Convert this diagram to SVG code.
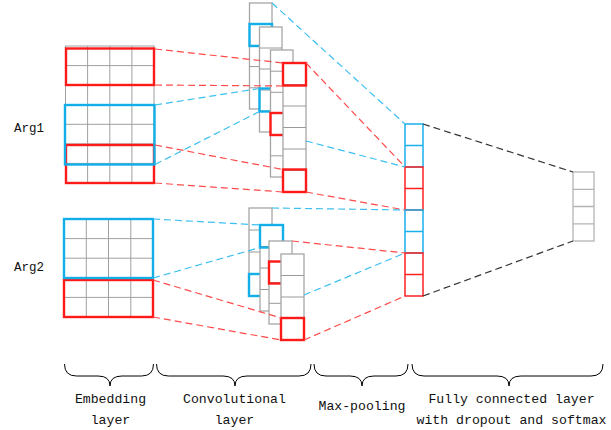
<svg xmlns="http://www.w3.org/2000/svg" width="611" height="430" viewBox="0 0 611 430">
<style>
.bg{fill:#fff}
.col{fill:#fff;stroke:#a6a6a6;stroke-width:1.3}
.grid{fill:none;stroke:#9a9a9a;stroke-width:1}
.emb{fill:none;stroke:#a0a0a0;stroke-width:1}
.r{fill:none;stroke:#ff1a1a;stroke-width:2.4}
.b{fill:none;stroke:#12aee8;stroke-width:2.4}
.mr{fill:none;stroke:#ff2020;stroke-width:1.5}
.mb{fill:none;stroke:#1ab0ec;stroke-width:1.5}
.fc{fill:#fff;stroke:#b4b4b4;stroke-width:1.3}
.dr{stroke:#ff4a4a;stroke-width:1.2;stroke-dasharray:7 4;fill:none}
.db{stroke:#3cbff0;stroke-width:1.2;stroke-dasharray:7 4;fill:none}
.dk{stroke:#333;stroke-width:1.2;stroke-dasharray:7 4;fill:none}
.brace{fill:none;stroke:#000;stroke-width:1}
text{font-family:"Liberation Mono","DejaVu Sans Mono",monospace;font-size:13.2px;fill:#111;text-anchor:middle}
</style>
<rect class="bg" x="0" y="0" width="611" height="430"/>

<g id="emb-arg1">
<rect class="emb" x="65.5" y="46" width="88.5" height="137"/>
<path class="emb" d="M87.6 46V183M109.8 46V183M131.9 46V183M65.5 65.6H154M65.5 85.1H154M65.5 104.7H154M65.5 124.3H154M65.5 143.9H154M65.5 163.4H154"/>
<rect class="r" x="66" y="48.5" width="88" height="36.5"/>
<rect class="r" x="66" y="145" width="88" height="38"/>
<rect class="b" x="65" y="105" width="89.5" height="59.5"/>
</g>

<g id="emb-arg2">
<rect class="emb" x="64" y="219" width="89" height="98"/>
<path class="emb" d="M86.3 219V317M108.5 219V317M130.8 219V317M64 238.6H153M64 258.2H153M64 277.8H153M64 297.4H153"/>
<rect class="r" x="64" y="280" width="89" height="37"/>
<rect class="b" x="64" y="219" width="89" height="59"/>
</g>

<g id="conv1-a">
<rect class="col" x="249.5" y="3" width="22.5" height="106"/>
<path class="grid" d="M249.5 24.2H272M249.5 45.4H272M249.5 66.6H272M249.5 87.8H272"/>
<rect class="b" x="249.5" y="24" width="22.5" height="22"/>
</g>
<g id="conv1-b">
<rect class="col" x="259.5" y="27" width="22.5" height="105"/>
<path class="grid" d="M259.5 48H282M259.5 69H282M259.5 90H282M259.5 111H282"/>
<rect class="b" x="259.5" y="88.5" width="22.5" height="23"/>
</g>
<g id="conv1-c">
<rect class="col" x="270.5" y="50" width="22.5" height="127"/>
<path class="grid" d="M270.5 71.2H293M270.5 92.3H293M270.5 113.5H293M270.5 134.7H293M270.5 155.8H293"/>
<rect class="r" x="270.5" y="113" width="22.5" height="22"/>
</g>
<g id="conv1-d">
<rect class="col" x="283" y="63" width="23" height="129"/>
<path class="grid" d="M283 84.5H306M283 106H306M283 127.5H306M283 149H306M283 170.5H306"/>
<rect class="r" x="283" y="63" width="23" height="22.5"/>
<rect class="r" x="283" y="169.5" width="23" height="22.5"/>
</g>

<g id="conv2-a">
<rect class="col" x="249" y="208" width="23" height="88"/>
<path class="grid" d="M249 230H272M249 252H272M249 274H272"/>
<rect class="b" x="249" y="274" width="23" height="22"/>
</g>
<g id="conv2-b">
<rect class="col" x="260" y="225" width="23" height="86"/>
<path class="grid" d="M260 246.5H283M260 268H283M260 289.5H283"/>
<rect class="b" x="260" y="225" width="23" height="22.5"/>
</g>
<g id="conv2-c">
<rect class="col" x="269" y="241" width="23" height="83"/>
<path class="grid" d="M269 261.8H292M269 282.5H292M269 303.3H292"/>
<rect class="r" x="269" y="261.5" width="23" height="22"/>
</g>
<g id="conv2-d">
<rect class="col" x="281" y="254" width="23" height="86"/>
<path class="grid" d="M281 275.5H304M281 297H304M281 318.5H304"/>
<rect class="r" x="281" y="318" width="23" height="22"/>
</g>

<g id="maxpool">
<rect class="mb" x="405" y="124" width="18" height="43"/>
<path class="mb" d="M405 145.5H423"/>
<rect class="mr" x="405" y="167" width="18" height="43"/>
<path class="mr" d="M405 188.5H423"/>
<rect class="mb" x="405" y="210" width="18" height="43"/>
<path class="mb" d="M405 231.5H423"/>
<rect class="mr" x="405" y="253" width="18" height="43"/>
<path class="mr" d="M405 274.5H423"/>
</g>

<g id="fc">
<rect class="fc" x="573" y="172" width="21" height="69"/>
<path class="fc" d="M573 189.3H594M573 206.5H594M573 223.8H594"/>
</g>

<g id="connectors">
<path class="dr" d="M155 49L283 63M155 85L283 86M155 145L283 169.5M155 183L283 192M306 63L405 167M306 192L405 210"/>
<path class="db" d="M155 105L259.5 88.5M155 164.5L259.5 111.5M272 3L405 124M306 141L405 167"/>
<path class="db" d="M153 219L260 225M153 278L260 247.5M272 208L405 210M304 295L405 253"/>
<path class="dr" d="M153 280L281 318M153 317L281 340M292 241L405 253M304 340L405 296"/>
<path class="dk" d="M423 124L573 172M423 296L573 241"/>
</g>

<g id="labels">
<text x="29" y="132" style="font-size:12.5px">Arg1</text>
<text x="29" y="271" style="font-size:12.5px">Arg2</text>
</g>

<g id="braces">
<path class="brace" d="M64.5 364Q64.5 376 76.5 376H98Q110 376 110 386Q110 376 122 376H141.5Q153.5 376 153.5 364"/>
<path class="brace" d="M156.5 364Q156.5 376 168.5 376H223Q235 376 235 386Q235 376 247 376H299Q311 376 311 364"/>
<path class="brace" d="M314 364Q314 376 326 376H350Q362 376 362 386Q362 376 374 376H396Q408 376 408 364"/>
<path class="brace" d="M412 364Q412 376 424 376H497Q509 376 509 386Q509 376 521 376H591Q603 376 603 364"/>
<text x="110.5" y="403">Embedding</text>
<text x="110.5" y="424">layer</text>
<text x="234.5" y="403">Convolutional</text>
<text x="234.5" y="424">layer</text>
<text x="362" y="410">Max-pooling</text>
<text x="511.5" y="403">Fully connected layer</text>
<text x="511.5" y="424">with dropout and softmax</text>
</g>
</svg>
